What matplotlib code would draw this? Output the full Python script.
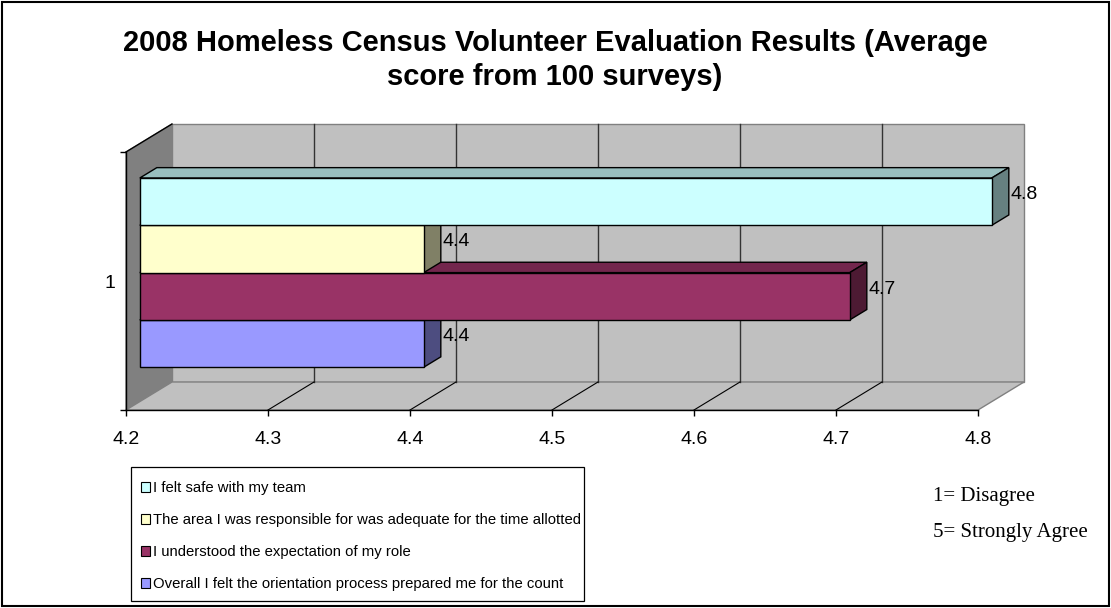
import matplotlib
matplotlib.use("Agg")
import matplotlib.pyplot as plt
from matplotlib.patches import Polygon, Patch, Rectangle

plt.rcParams['font.family'] = ['Liberation Sans', 'DejaVu Sans']

title = "2008 Homeless Census Volunteer Evaluation Results (Average\nscore from 100 surveys)"
series = ["I felt safe with my team",
          "The area I was responsible for was adequate for the time allotted",
          "I understood the expectation of my role",
          "Overall I felt the orientation process prepared me for the count"]
scores = [4.8, 4.4, 4.7, 4.4]
category = "1"
x_ticks = [4.2, 4.3, 4.4, 4.5, 4.6, 4.7, 4.8]
notes = ["1= Disagree", "5= Strongly Agree"]

colors = ["#CCFFFF", "#FFFFCC", "#993366", "#9999FF"]


def shade(hex_color, k):
    r, g, b = (int(hex_color[i:i + 2], 16) / 255 for i in (1, 3, 5))
    return (r * k, g * k, b * k)


W, H = 1111, 608
fig = plt.figure(figsize=(W / 100, H / 100), dpi=100)
# front face of the 3d box: 4.2 -> 126px, 4.8 -> 978px, floor at 410px, top at 152px
ax = fig.add_axes([126 / W, (H - 410) / H, 852 / W, 258 / H])
xmin, xmax = x_ticks[0], x_ticks[-1]
ax.set_xlim(xmin, xmax)
ax.set_ylim(0, 1)

# depth of the box, in data units
DX = 46 / 852 * (xmax - xmin)
DY = 28 / 258
f0, f1 = 0.3, 0.67   # bars sit between these depth fractions


def poly(pts, fc, ec, lw=1.0, z=1):
    ax.add_patch(Polygon(pts, closed=True, facecolor=fc, edgecolor=ec,
                         linewidth=lw, clip_on=False, zorder=z, joinstyle='miter'))


# walls and floor
poly([(xmin + DX, DY), (xmax + DX, DY), (xmax + DX, 1 + DY), (xmin + DX, 1 + DY)],
     '#C0C0C0', '#808080')
poly([(xmin, 0), (xmin + DX, DY), (xmin + DX, 1 + DY), (xmin, 1)], '#808080', '#808080')
poly([(xmin, 0), (xmax, 0), (xmax + DX, DY), (xmin + DX, DY)], '#C0C0C0', '#808080')
ax.plot([xmin, xmin + DX], [1, 1 + DY], color='black', lw=1, clip_on=False, zorder=1.5)
for t in x_ticks[1:-1]:
    ax.plot([t + DX, t + DX], [DY, 1 + DY], color='#333333', lw=1, clip_on=False, zorder=1.2)
    ax.plot([t, t + DX], [0, DY], color='black', lw=0.8, clip_on=False, zorder=1.2)

# bars, bottom one first so upper bars cover the hidden faces
n = len(scores)
bh = 47.3 / 258
base = (1 - n * bh) / 2
ox, oy = f0 * DX, f0 * DY
dx, dy = (f1 - f0) * DX, (f1 - f0) * DY
for i in reversed(range(n)):
    v = scores[i]
    yb = base + (n - 1 - i) * bh
    yt = yb + bh
    c = colors[i]
    poly([(xmin + ox, yt + oy), (v + ox, yt + oy), (v + ox + dx, yt + oy + dy),
          (xmin + ox + dx, yt + oy + dy)], shade(c, 0.75), 'black', z=2)
    poly([(v + ox, yb + oy), (v + ox + dx, yb + oy + dy), (v + ox + dx, yt + oy + dy),
          (v + ox, yt + oy)], shade(c, 0.5), 'black', z=2)
    poly([(xmin + ox, yb + oy), (v + ox, yb + oy), (v + ox, yt + oy), (xmin + ox, yt + oy)],
         c, 'black', z=2)
    ax.annotate(f"{v}", xy=(v + f1 * DX, (yb + yt) / 2 + 0.55 * DY),
                xytext=(1, 0), textcoords='offset points',
                ha='left', va='center', fontsize=14, annotation_clip=False, zorder=5)

# axes
for s in ['top', 'right']:
    ax.spines[s].set_visible(False)
for s in ['bottom', 'left']:
    ax.spines[s].set_color('black')
    ax.spines[s].set_linewidth(1)
ax.set_facecolor('none')
ax.set_xticks(x_ticks)
ax.set_xticklabels([f"{t:.1f}" for t in x_ticks])
ax.tick_params(axis='x', direction='out', length=4, width=1, pad=11, labelsize=14)
ax.set_yticks([0.5])
ax.set_yticklabels([category])
ax.set_yticks([0, 1], minor=True)
ax.tick_params(axis='y', which='major', length=0, pad=8, labelsize=14)
ax.tick_params(axis='y', which='minor', direction='out', length=4, width=1)

fig.text(555 / W, 1 - 60 / H, title, ha='center', va='center',
         fontsize=21, fontweight='bold', linespacing=1.25)

# legend: entries without frame, box drawn separately (Excel box is tight on the right)
handles = [Patch(facecolor=c, edgecolor='black', linewidth=0.8) for c in colors]
fig.legend(handles, series, loc='upper left',
           bbox_to_anchor=(141 / W, 1 - 481 / H), bbox_transform=fig.transFigure,
           fontsize=10.7, frameon=False, borderaxespad=0, borderpad=0,
           handlelength=0.62, handleheight=0.62, handletextpad=0.2,
           labelspacing=1.22)
fig.add_artist(Rectangle((131 / W, 1 - 601 / H), 453 / W, 134 / H, transform=fig.transFigure,
                         fill=False, edgecolor='black', linewidth=0.9))

for k, note in enumerate(notes):
    fig.text(933 / W, 1 - (496 + 37 * k) / H, note, ha='left', va='center',
             fontsize=15, family='Liberation Serif')

fig.add_artist(Rectangle((2 / W, 2 / H), 1107 / W, 604 / H, transform=fig.transFigure,
                         fill=False, edgecolor='black', linewidth=1.5))

fig.savefig("out.png", dpi=100)
